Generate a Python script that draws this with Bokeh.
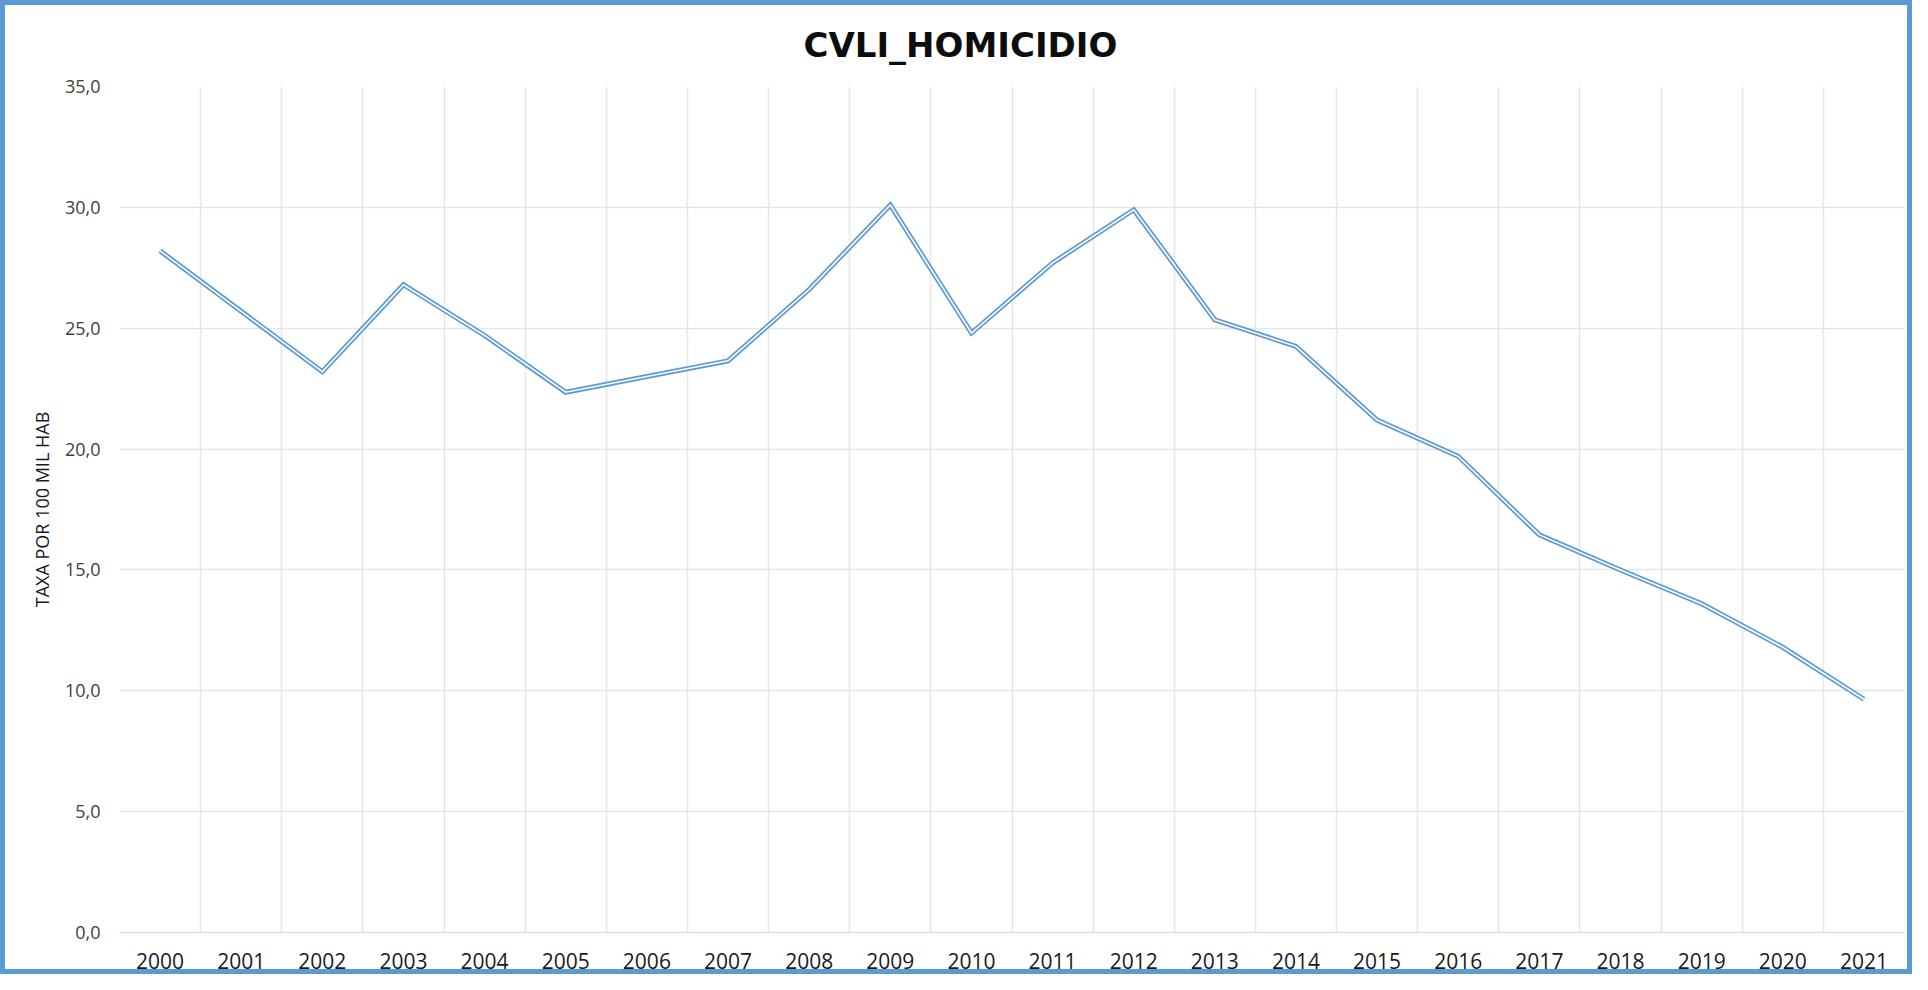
from bokeh.plotting import figure
from bokeh.models import FixedTicker, Range1d, Title, InlineStyleSheet
from bokeh.embed import file_html
from bokeh.resources import INLINE

years = list(range(2000, 2022))
rates = [28.2, 25.7, 23.2, 26.8, 24.7, 22.35, 23.0, 23.65, 26.6, 30.1, 24.8,
         27.7, 29.9, 25.35, 24.25, 21.2, 19.7, 16.45, 15.0, 13.6, 11.8, 9.65]
y_ticks = [0, 5, 10, 15, 20, 25, 30, 35]
y_tick_labels = ["0,0", "5,0", "10,0", "15,0", "20,0", "25,0", "30,0", "35,0"]
title_text = "CVLI_HOMICIDIO"
y_label = "TAXA POR 100 MIL HAB"

BLUE = "#5B9BD5"
GRID = "#E6E6E6"
W, H = 1912, 974

p = figure(width=W, height=H, output_backend="svg", toolbar_location=None,
           x_range=Range1d(years[0] - 0.5, years[-1] + 0.5),
           y_range=Range1d(y_ticks[0], y_ticks[-1]),
           min_border_left=119, min_border_right=8,
           min_border_top=85, min_border_bottom=42)
p.outline_line_color = None
p.background_fill_color = "white"
p.border_fill_color = "white"

# outer chart border drawn above the canvas
p.stylesheets = [InlineStyleSheet(css=(
    ":host { position: relative; }\n"
    ":host::after { content: ''; position: absolute; left: 0; top: 0; "
    "right: 0; bottom: 0; border: 5px solid " + BLUE + "; "
    "pointer-events: none; z-index: 100; box-sizing: border-box; }"
))]

t = Title(text=title_text, align="left", vertical_align="bottom",
          text_font="DejaVu Sans", text_font_style="bold",
          text_font_size="34px", text_color="#0D0D0D",
          offset=684, standoff=44)
p.add_layout(t, "above")

# x axis
p.xaxis.ticker = FixedTicker(ticks=years)
p.xaxis.major_label_overrides = {y: str(y) for y in years}
p.xaxis.major_tick_line_color = None
p.xaxis.major_tick_out = 0
p.xaxis.major_tick_in = 0
p.xaxis.minor_tick_line_color = None
p.xaxis.axis_line_color = "#D9D9D9"
p.xaxis.major_label_text_font = "Open Sans"
p.xaxis.major_label_text_font_size = "21px"
p.xaxis.major_label_text_color = "#1A1A1A"
p.xaxis.major_label_standoff = 20

# y axis
p.yaxis.ticker = FixedTicker(ticks=y_ticks)
p.yaxis.major_label_overrides = {v: s for v, s in zip(y_ticks, y_tick_labels)}
p.yaxis.major_tick_line_color = None
p.yaxis.major_tick_out = 0
p.yaxis.major_tick_in = 0
p.yaxis.minor_tick_line_color = None
p.yaxis.axis_line_color = None
p.yaxis.major_label_text_font = "Open Sans"
p.yaxis.major_label_text_font_size = "18px"
p.yaxis.major_label_text_color = "#404040"
p.yaxis.major_label_standoff = 19
p.yaxis.axis_label = y_label
p.yaxis.axis_label_text_font = "Open Sans"
p.yaxis.axis_label_text_font_style = "normal"
p.yaxis.axis_label_text_font_size = "18px"
p.yaxis.axis_label_text_color = "#1A1A1A"
p.yaxis.axis_label_standoff = 8

# grids
p.xgrid.ticker = FixedTicker(ticks=[y - 0.5 for y in years] + [years[-1] + 0.5])
p.xgrid.grid_line_color = GRID
p.xgrid.grid_line_width = 1.5
p.ygrid.ticker = FixedTicker(ticks=y_ticks)
p.ygrid.grid_line_color = GRID
p.ygrid.grid_line_width = 1.5

# double line
p.line(years, rates, line_color=BLUE, line_width=5, line_join="miter")
p.line(years, rates, line_color="white", line_width=1.6, line_join="miter")

open("out.html", "w").write(file_html(p, INLINE))
